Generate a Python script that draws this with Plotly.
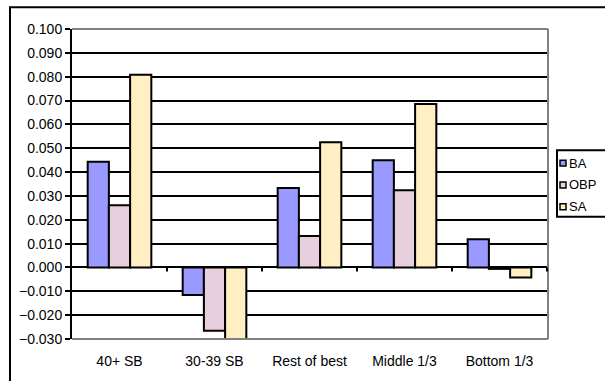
import plotly.graph_objects as go

# Change in rate stats by stolen-base group
categories = ["40+ SB", "30-39 SB", "Rest of best", "Middle 1/3", "Bottom 1/3"]
series_names = ["BA", "OBP", "SA"]
ba = [0.0443, -0.0115, 0.0333, 0.0450, 0.0118]
obp = [0.0261, -0.0265, 0.0132, 0.0324, -0.0006]
sa = [0.0808, -0.0300, 0.0525, 0.0685, -0.0042]
y_ticks = [-0.03, -0.02, -0.01, 0.0, 0.01, 0.02, 0.03, 0.04, 0.05, 0.06, 0.07, 0.08, 0.09, 0.10]

colors = ["#9999FF", "#E8CFDD", "#FFEFC2"]
series_values = [ba, obp, sa]

W, H = 605, 381
ML, MR, MT, MB = 72, 57, 29, 40
PW, PH = W - ML - MR, H - MT - MB
FONT = "Liberation Sans, Arial, sans-serif"


def px_x(px):
    return (px - ML) / PW


def px_y(py):
    return (H - MB - py) / PH


fig = go.Figure()
for name, vals, col in zip(series_names, series_values, colors):
    fig.add_trace(go.Bar(
        x=categories, y=vals, name=name,
        marker=dict(color=col, line=dict(color="black", width=2)),
        showlegend=False,
    ))

shapes = []
# plot-area frame (top, right, bottom) in grey
for x0, y0, x1, y1 in [(0, 1, 1, 1), (1, 0, 1, 1), (0, 0, 1, 0)]:
    shapes.append(dict(type="line", xref="paper", yref="paper", x0=x0, y0=y0, x1=x1, y1=y1,
                       line=dict(color="#808080", width=2), layer="above"))
# small category separator ticks on the zero line
for k in range(1, len(categories) + 1):
    shapes.append(dict(type="line", xref="x", yref="y", x0=k - 0.5, x1=k - 0.5,
                       ysizemode="pixel", yanchor=0, y0=0, y1=-4,
                       line=dict(color="black", width=2)))
# outer chart border
shapes.append(dict(type="rect", xref="paper", yref="paper",
                   x0=px_x(10), x1=px_x(640), y0=px_y(420), y1=px_y(7),
                   line=dict(color="black", width=2)))

# legend box and entries
annotations = []
shapes.append(dict(type="rect", xref="paper", yref="paper",
                   x0=px_x(557), x1=px_x(640), y0=px_y(218), y1=px_y(151),
                   line=dict(color="black", width=2), fillcolor="white"))
for i, (name, col) in enumerate(zip(series_names, colors)):
    cy = 164 + 22 * i
    shapes.append(dict(type="rect", xref="paper", yref="paper",
                       x0=px_x(560), x1=px_x(566), y0=px_y(cy + 3), y1=px_y(cy - 3),
                       line=dict(color="black", width=1.5), fillcolor=col))
    annotations.append(dict(xref="paper", yref="paper", x=px_x(567), y=px_y(cy),
                            text=name, showarrow=False, xanchor="left", yanchor="middle",
                            font=dict(family=FONT, size=13, color="black")))

fig.update_layout(
    width=W, height=H,
    margin=dict(l=ML, r=MR, t=MT, b=MB),
    paper_bgcolor="white", plot_bgcolor="white",
    barmode="group", bargap=0.33, bargroupgap=0,
    font=dict(family=FONT, size=14, color="black"),
    shapes=shapes, annotations=annotations,
    showlegend=False,
)
fig.update_xaxes(
    type="category", showgrid=False, zeroline=False, showline=False,
    ticks="outside", ticklen=9, tickcolor="rgba(0,0,0,0)",
    tickfont=dict(family=FONT, size=14, color="black"),
)
fig.update_yaxes(
    range=[-0.03, 0.10], tickvals=y_ticks, tickformat=".3f",
    showgrid=True, gridcolor="black", gridwidth=2,
    zeroline=True, zerolinecolor="black", zerolinewidth=2,
    showline=True, linecolor="black", linewidth=2,
    ticks="outside", ticklen=5, tickwidth=2, tickcolor="black",
    tickfont=dict(family=FONT, size=14, color="black"),
)

fig.write_html("out.html")
